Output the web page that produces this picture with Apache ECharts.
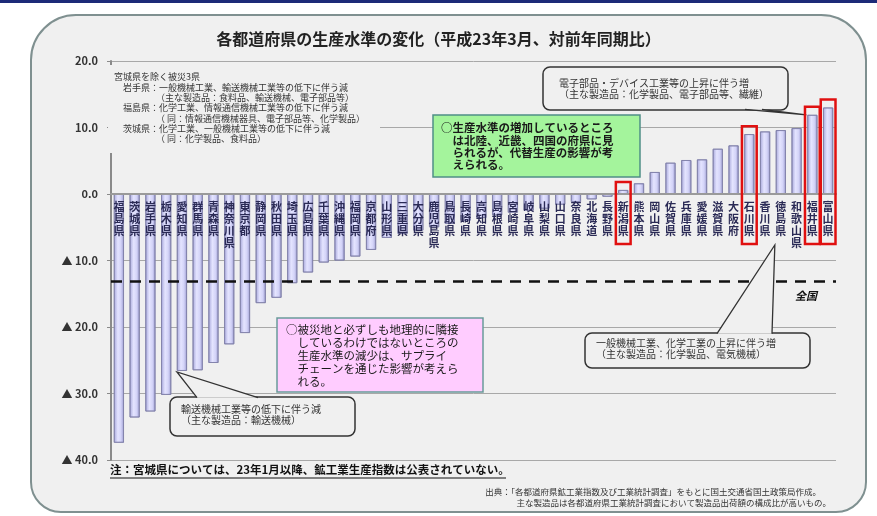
<!DOCTYPE html>
<html><head><meta charset="utf-8">
<script src="https://cdn.jsdelivr.net/npm/echarts@6/dist/echarts.min.js"></script>
<style>html,body{margin:0;padding:0;background:#fff}#c{width:877px;height:516px}</style>
</head><body><div id="c"></div>
<script>
const categories = ['福島県','茨城県','岩手県','栃木県','愛知県','群馬県','青森県','神奈川県','東京都','静岡県','秋田県','埼玉県','広島県','千葉県','沖縄県','福岡県','京都府','山形県','三重県','大分県','鹿児島県','鳥取県','長崎県','高知県','島根県','宮崎県','岐阜県','山梨県','山口県','奈良県','北海道','長野県','新潟県','熊本県','岡山県','佐賀県','兵庫県','愛媛県','滋賀県','大阪府','石川県','香川県','徳島県','和歌山県','福井県','富山県'];
const values = [-37.4,-33.6,-32.7,-30.2,-26.6,-26.5,-25.4,-22.6,-20.9,-16.4,-15.6,-13.4,-11.8,-10.3,-10.0,-9.4,-8.4,-6.6,-6.0,-5.5,-5.0,-4.5,-4.0,-3.6,-3.2,-2.8,-2.5,-2.2,-1.6,-1.2,-0.8,-0.4,0.6,1.6,3.3,4.7,5.1,5.2,6.8,7.3,9.0,9.4,9.6,9.9,11.9,13.0];
const nationalAvg = -13.1;
const highlighted = ['新潟県','石川県','福井県','富山県'];
const yMin = -40, yMax = 20, yStep = 10;

const FONT = '"Noto Sans CJK JP", "Noto Sans", sans-serif';
const BG = '#f0f0f0';
const GRID = {left: 111, right: 41, top: 61, bottom: 56};
const gridH = 516 - GRID.top - GRID.bottom;
const zeroOffset = -(0 - yMin) / (yMax - yMin) * gridH;

const chart = echarts.init(document.getElementById('c'), null, {renderer: 'canvas'});

chart.setOption({
  backgroundColor: '#ffffff',
  animation: false,
  textStyle: {fontFamily: FONT},
  title: {
    text: '各都道府県の生産水準の変化（平成23年3月、対前年同期比）',
    left: 'center', top: 26,
    textStyle: {fontSize: 16, fontWeight: 'bold', color: '#222', fontFamily: FONT}
  },
  grid: Object.assign({containLabel: false}, GRID),
  xAxis: {
    type: 'category', data: categories, z: 10, position: 'bottom', offset: zeroOffset,
    axisLine: {onZero: false, lineStyle: {color: '#9a9a9a', width: 2}},
    axisTick: {show: false},
    axisLabel: {
      interval: 0, margin: 7, fontSize: 11, lineHeight: 12, fontWeight: 'bold',
      color: '#2a2a55', fontFamily: FONT,
      formatter: v => v.split('').join('\n')
    }
  },
  yAxis: {
    type: 'value', min: yMin, max: yMax, interval: yStep,
    axisLine: {show: true, lineStyle: {color: '#8a8a8a', width: 2}},
    axisTick: {show: true, length: 4, lineStyle: {color: '#8a8a8a'}},
    splitLine: {lineStyle: {color: '#a8a8a8', width: 1}},
    axisLabel: {
      margin: 13, fontSize: 11, fontWeight: 'bold', color: '#333', fontFamily: FONT,
      formatter: v => v < 0 ? '▲ ' + Math.abs(v).toFixed(1) : v.toFixed(1)
    }
  },
  series: [{
    type: 'bar', data: values, barCategoryGap: '36%',
    itemStyle: {
      color: new echarts.graphic.LinearGradient(0, 0, 1, 0, [
        {offset: 0, color: '#a6a6da'}, {offset: 0.4, color: '#e4e4ff'},
        {offset: 0.7, color: '#d4d4f8'}, {offset: 1, color: '#9e9ed2'}
      ]),
      borderColor: '#8080aa', borderWidth: 0.8
    },
    markLine: {
      silent: true, symbol: 'none', label: {show: false},
      lineStyle: {color: '#111', width: 2.5, type: [11, 8]},
      data: [{yAxis: nationalAvg}]
    }
  }]
});

function px(i, v) { return chart.convertToPixel({gridIndex: 0}, [i, v]); }
const zeroY = px(0, 0)[1];
const step = px(1, 0)[0] - px(0, 0)[0];

const g = [];
g.push({type: 'rect', z: -10, shape: {x: 0, y: 0, width: 877, height: 3}, style: {fill: '#1c2a78'}});
g.push({type: 'rect', z: -10, shape: {x: 31, y: 15, width: 835, height: 497, r: [45, 45, 30, 30]}, style: {fill: BG, stroke: '#7f9090', lineWidth: 2}});
g.push({type: 'rect', z: 5, shape: {x: 108, y: 65, width: 272, height: 88}, style: {fill: BG}});

function txt(text, x, y, size, opts) {
  opts = opts || {};
  g.push({type: 'text', z: 120, style: {text: text, x: x, y: y, fontSize: size, fontFamily: FONT,
    fill: opts.fill || '#222', fontWeight: opts.weight || 'normal', fontStyle: opts.style || 'normal',
    textVerticalAlign: 'middle', textAlign: opts.align || 'left'}});
}

const noteLines = [
  ['宮城県を除く被災3県', 114],
  ['岩手県：一般機械工業、輸送機械工業等の低下に伴う減', 123],
  ['（主な製造品：食料品、輸送機械、電子部品等）', 156],
  ['福島県：化学工業、情報通信機械工業等の低下に伴う減', 123],
  ['（ 同：情報通信機械器具、電子部品等、化学製品）', 156],
  ['茨城県：化学工業、一般機械工業等の低下に伴う減', 123],
  ['（ 同：化学製品、食料品）', 156]
];
noteLines.forEach((l, k) => txt(l[0], l[1], 77 + k * 10.3, 9, {fill: '#333'}));

g.push({type: 'rect', z: 110, shape: {x: 433, y: 115, width: 207, height: 62}, style: {fill: '#a4f49c', stroke: '#4f8f86', lineWidth: 1.5}});
['○生産水準の増加しているところ', '　は北陸、近畿、四国の府県に見', '　られるが、代替生産の影響が考', '　えられる。'].forEach((t, k) => txt(t, 441, 128 + k * 12.3, 11.5, {weight: 'bold', fill: '#1a1a1a'}));

g.push({type: 'rect', z: 110, shape: {x: 277, y: 318, width: 206, height: 74}, style: {fill: '#ffccff', stroke: '#6a9a9a', lineWidth: 1.5}});
['○被災地と必ずしも地理的に隣接', '　しているわけではないところの', '　生産水準の減少は、サプライ', '　チェーンを通じた影響が考えら', '　れる。'].forEach((t, k) => txt(t, 286, 330 + k * 13, 11.5, {fill: '#1a1a1a'}));

function callout(x, y, w, h, lines, lx, ly, lsize, tip, b1, b2) {
  g.push({type: 'rect', z: 110, shape: {x: x, y: y, width: w, height: h, r: 7}, style: {fill: BG, stroke: '#333', lineWidth: 1.5}});
  g.push({type: 'polygon', z: 111, shape: {points: [b1, tip, b2]}, style: {fill: BG}});
  g.push({type: 'polyline', z: 112, shape: {points: [b1, tip, b2]}, style: {stroke: '#333', lineWidth: 1.3, fill: null}});
  lines.forEach((t, k) => txt(t, lx, ly + k * 11.5, lsize, {fill: '#333'}));
}
const fi = categories.indexOf('福井県');
const fukui = px(fi, values[fi]);
callout(543, 67, 245, 43, ['電子部品・デバイス工業等の上昇に伴う増', '（主な製造品：化学製品、電子部品等、繊維）'], 559, 83, 10,
  [fukui[0] - 6, fukui[1]], [745, 109.3], [762, 109.3]);
const ai = categories.indexOf('愛知県');
const aichi = px(ai, values[ai]);
callout(170, 397, 185, 39, ['輸送機械工業等の低下に伴う減', '（主な製造品：輸送機械）'], 181, 409, 10,
  [aichi[0] - 5, aichi[1] + 1], [197, 397.7], [258, 397.7]);
const toku = px(categories.indexOf('徳島県'), 0);
callout(585, 333, 225, 35, ['一般機械工業、化学工業の上昇に伴う増', '（主な製造品：化学製品、電気機械）'], 596, 343, 10,
  [toku[0] - 6, zeroY + 51], [717, 333.7], [772, 333.7]);

highlighted.forEach(name => {
  const i = categories.indexOf(name);
  const p = px(i, values[i]);
  const top = p[1] - 8;
  g.push({type: 'rect', z: 115, shape: {x: p[0] - step / 2 + 0.5, y: top, width: step - 1, height: zeroY + 50 - top}, style: {fill: null, stroke: '#e01010', lineWidth: 2.5}});
});

txt('全国', 795, 296, 11, {weight: 'bold', style: 'italic', fill: '#111'});

txt('注：宮城県については、23年1月以降、鉱工業生産指数は公表されていない。', 110, 470, 11.5, {weight: 'bold', fill: '#111'});
g.push({type: 'line', z: 120, shape: {x1: 110, y1: 478, x2: 506, y2: 478}, style: {stroke: '#111', lineWidth: 1}});
txt('出典：「各都道府県鉱工業指数及び工業統計調査」をもとに国土交通省国土政策局作成。', 821, 492, 8.5, {align: 'right', fill: '#333'});
txt('主な製造品は各都道府県工業統計調査において製造品出荷額の構成比が高いもの。', 831, 503, 8.5, {align: 'right', fill: '#333'});

chart.setOption({graphic: {elements: g}});
</script>
</body></html>
